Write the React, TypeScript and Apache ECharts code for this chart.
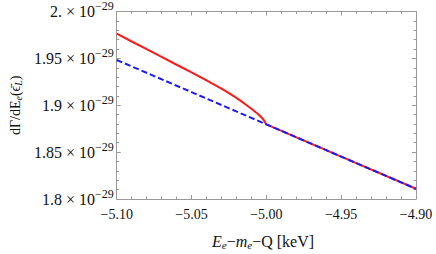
import React, { useEffect, useRef } from "react";
import * as echarts from "echarts";

// values in units of 1e-29
const redX = [-5.1, -5.09, -5.08, -5.07, -5.06, -5.05, -5.04, -5.03, -5.025, -5.02, -5.015, -5.01, -5.005, -5.002, -5.0, -4.95, -4.9];
const redY = [1.9763, 1.968, 1.9598, 1.9515, 1.9432, 1.935, 1.9265, 1.9177, 1.9129, 1.9078, 1.9022, 1.8963, 1.8898, 1.8848, 1.8796, 1.8452, 1.8109];
const blueX = [-5.1, -5.05, -5.0, -4.95, -4.9];
const blueY = [1.9483, 1.914, 1.8796, 1.8452, 1.8109];
const xTicks = [-5.1, -5.05, -5.0, -4.95, -4.9];
const xTickLabels = ["\u22125.10", "\u22125.05", "\u22125.00", "\u22124.95", "\u22124.90"];
const yTicks = [1.8, 1.85, 1.9, 1.95, 2.0];
const yTickLabels = ["1.8", "1.85", "1.9", "1.95", "2."];
const EXP = "\u221229";

const FONT = "'Liberation Serif', 'DejaVu Serif', serif";
const GRAY = "#999";

function lookup(ticks: number[], labels: string[], v: number) {
  for (let i = 0; i < ticks.length; i++) if (Math.abs(ticks[i] - v) < 1e-6) return labels[i];
  return "";
}

export default function App() {
  const ref = useRef<HTMLDivElement>(null);
  useEffect(() => {
    const chart = echarts.init(ref.current!, null, { renderer: "svg" });
    const baseAxis = {
      type: "value" as const,
      axisLine: { show: true, onZero: false, lineStyle: { color: GRAY, width: 1 } },
      axisTick: { show: true, inside: true, length: 4, lineStyle: { color: GRAY } },
      minorTick: { show: true, splitNumber: 5, length: 2.5, lineStyle: { color: GRAY } },
      splitLine: { show: false },
    };
    chart.setOption({
      animation: false,
      backgroundColor: "#fff",
      grid: { left: 110, right: 20, top: 11, bottom: 55, containLabel: false },
      xAxis: [
        {
          ...baseAxis,
          position: "bottom",
          min: -5.1,
          max: -4.9,
          interval: 0.05,
          axisLabel: {
            margin: 8,
            color: "#111",
            fontFamily: FONT,
            fontSize: 14,
            formatter: (v: number) => lookup(xTicks, xTickLabels, v),
          },
        },
        {
          ...baseAxis,
          position: "top",
          min: -5.1,
          max: -4.9,
          interval: 0.05,
          axisLabel: { show: false },
        },
      ],
      yAxis: [
        {
          ...baseAxis,
          position: "left",
          min: 1.8,
          max: 2.0,
          interval: 0.05,
          name: "{n|d\u0393/dE}{s|e}{n|(\u03f5\u0304}{s|L}{n|)}",
          nameLocation: "middle",
          nameRotate: 90,
          nameGap: 90,
          nameTextStyle: {
            rich: {
              n: { fontFamily: FONT, fontSize: 14, color: "#111" },
              s: { fontFamily: FONT, fontSize: 10, color: "#111", fontStyle: "italic", padding: [6, 0, 0, 0] },
            },
          },
          axisLabel: {
            margin: 3,
            fontFamily: FONT,
            formatter: (v: number) => {
              const m = lookup(yTicks, yTickLabels, v);
              return m ? `{m|${m}}{t| \u00d7 10}{s|${EXP}}` : "";
            },
            rich: {
              m: { fontFamily: FONT, fontSize: 16, color: "#111" },
              t: { fontFamily: FONT, fontSize: 16, color: "#111" },
              s: { fontFamily: FONT, fontSize: 12, color: "#111", padding: [0, 0, 11, 0] },
            },
          },
        },
        {
          ...baseAxis,
          position: "right",
          min: 1.8,
          max: 2.0,
          interval: 0.05,
          axisLabel: { show: false },
        },
      ],
      graphic: [
        {
          type: "text",
          x: 263,
          y: 241,
          style: {
            text: "{i|E}{s|e}{n|\u2212}{i|m}{s|e}{n|\u2212Q [keV]}",
            align: "center",
            verticalAlign: "middle",
            rich: {
              i: { fontFamily: FONT, fontSize: 16, fontStyle: "italic", fill: "#111" },
              n: { fontFamily: FONT, fontSize: 16, fill: "#111" },
              s: { fontFamily: FONT, fontSize: 11, fontStyle: "italic", fill: "#111", padding: [7, 0, 0, 0] },
            },
          },
        },
      ],
      series: [
        {
          type: "line",
          data: redX.map((x, i) => [x, redY[i]]),
          showSymbol: false,
          symbol: "none",
          lineStyle: { color: "#ff1a1a", width: 2 },
          z: 2,
        },
        {
          type: "line",
          data: blueX.map((x, i) => [x, blueY[i]]),
          showSymbol: false,
          symbol: "none",
          lineStyle: { color: "#1a1aff", width: 2, type: [6, 3] },
          z: 3,
        },
      ],
    });
    return () => chart.dispose();
  }, []);
  return <div ref={ref} style={{ position: "fixed", left: 0, top: 0, width: 436, height: 254 }} />;
}
